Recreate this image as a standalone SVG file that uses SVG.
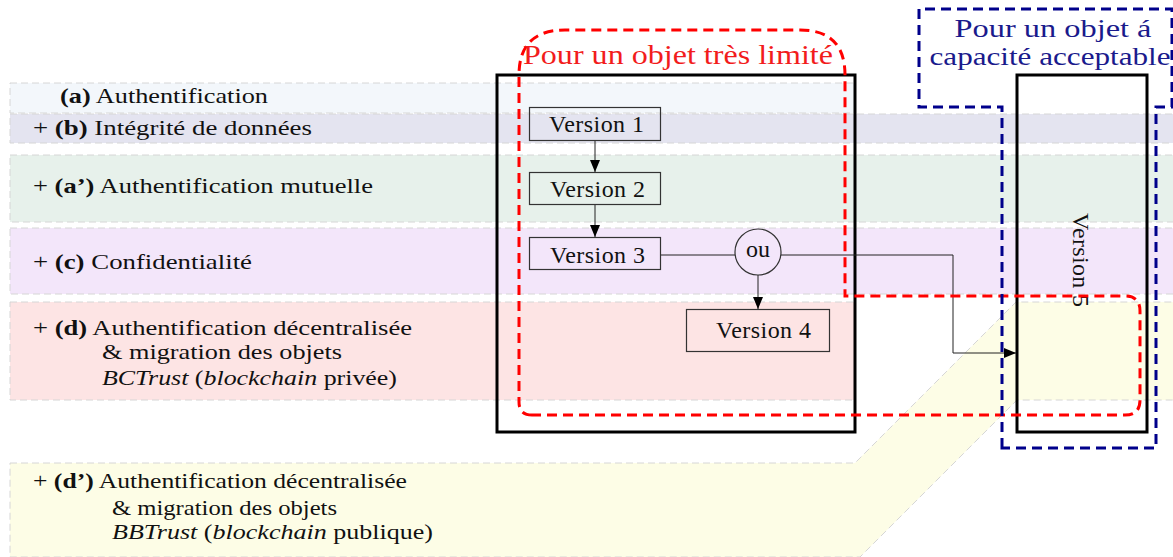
<svg xmlns="http://www.w3.org/2000/svg" width="1173" height="557" viewBox="0 0 1173 557">
<style>
.band{stroke:#d6d6d6;stroke-width:1;stroke-dasharray:7 4}
.t{font-size:22px;fill:#111}
.b{font-weight:bold}
.i{font-style:italic}
.box{fill:none;stroke:#000;stroke-width:3}
.ver{fill:none;stroke:#333;stroke-width:1.2}
.vt{font-size:24px;fill:#111}
.con{fill:none;stroke:#222;stroke-width:1}
</style>
<defs>
<marker id="arr" markerWidth="12" markerHeight="10" refX="12" refY="5" orient="auto" markerUnits="userSpaceOnUse"><path d="M0,0 L12,5 L0,10 Z" fill="#000"/></marker>
</defs>
<rect width="1173" height="557" fill="#fff"/>
<g id="bands">
<rect class="band" x="10" y="83" width="845" height="30" fill="#f3f7fb"/>
<rect class="band" x="10" y="114" width="1170" height="29" fill="#e4e4f0"/>
<rect class="band" x="10" y="155" width="1170" height="67" fill="#e7f1eb"/>
<rect class="band" x="10" y="228" width="1170" height="66" fill="#f3e6fa"/>
<rect class="band" x="10" y="302" width="845" height="98" fill="#fde4e4"/>
<path class="band" d="M10,463 L855,463 L1016,302 L1180,302 L1180,400 L1017,400 L860,557 L10,557 Z" fill="#fdfde6"/>
</g>
<g font-family="'Liberation Serif', 'Times New Roman', serif">
<g id="box1"><rect class="box" x="497" y="75" width="358" height="357"/></g>
<g id="box2"><rect class="box" x="1017" y="75" width="130" height="357"/>
<text class="vt" transform="translate(1073,213) rotate(90)" textLength="94" font-family="'Liberation Serif', serif">Version 5</text></g>
<g id="labels" font-family="'Liberation Serif', serif">
<text class="t" x="60" y="103" textLength="208" lengthAdjust="spacingAndGlyphs" font-family="'Liberation Serif', serif"><tspan class="b">(a)</tspan> Authentification</text>
<text class="t" x="33" y="135" textLength="279" lengthAdjust="spacingAndGlyphs" font-family="'Liberation Serif', serif">+ <tspan class="b">(b)</tspan> Intégrité de données</text>
<text class="t" x="33" y="193" textLength="340" lengthAdjust="spacingAndGlyphs" font-family="'Liberation Serif', serif">+ <tspan class="b">(a’)</tspan> Authentification mutuelle</text>
<text class="t" x="33" y="269" textLength="219" lengthAdjust="spacingAndGlyphs" font-family="'Liberation Serif', serif">+ <tspan class="b">(c)</tspan> Confidentialité</text>
<text class="t" x="33" y="335" textLength="379" lengthAdjust="spacingAndGlyphs" font-family="'Liberation Serif', serif">+ <tspan class="b">(d)</tspan> Authentification décentralisée</text>
<text class="t" x="102" y="359" textLength="240" lengthAdjust="spacingAndGlyphs" font-family="'Liberation Serif', serif">&amp; migration des objets</text>
<text class="t" x="102" y="385" textLength="295" lengthAdjust="spacingAndGlyphs" font-family="'Liberation Serif', serif"><tspan class="i">BCTrust</tspan> (<tspan class="i">blockchain</tspan> privée)</text>
<text class="t" x="33" y="488" textLength="374" lengthAdjust="spacingAndGlyphs" font-family="'Liberation Serif', serif">+ <tspan class="b">(d’)</tspan> Authentification décentralisée</text>
<text class="t" x="112" y="515" textLength="225" lengthAdjust="spacingAndGlyphs" font-family="'Liberation Serif', serif">&amp; migration des objets</text>
<text class="t" x="112" y="539" textLength="321" lengthAdjust="spacingAndGlyphs" font-family="'Liberation Serif', serif"><tspan class="i">BBTrust</tspan> (<tspan class="i">blockchain</tspan> publique)</text>
</g>
<g id="v1"><rect class="ver" x="529.5" y="107.5" width="131" height="33"/><text class="vt" x="549" y="132" textLength="95" font-family="'Liberation Serif', serif">Version 1</text></g>
<g id="v2"><rect class="ver" x="529.5" y="172.5" width="131" height="32"/><text class="vt" x="550" y="197" textLength="95" font-family="'Liberation Serif', serif">Version 2</text></g>
<g id="v3"><rect class="ver" x="529.5" y="237.5" width="131" height="32"/><text class="vt" x="550" y="263" textLength="95" font-family="'Liberation Serif', serif">Version 3</text></g>
<g id="ou"><circle class="ver" cx="758" cy="252" r="23"/><text class="vt" x="758" y="257" text-anchor="middle" font-family="'Liberation Serif', serif">ou</text></g>
<g id="v4"><rect class="ver" x="686.5" y="309.5" width="143" height="42"/><text class="vt" x="716" y="338" textLength="95" font-family="'Liberation Serif', serif">Version 4</text></g>
<g id="connectors">
<line class="con" x1="595" y1="141" x2="595" y2="172" marker-end="url(#arr)"/>
<line class="con" x1="595" y1="205" x2="595" y2="237" marker-end="url(#arr)"/>
<line class="con" x1="661" y1="255" x2="735" y2="255"/>
<line class="con" x1="758" y1="275" x2="758" y2="309" marker-end="url(#arr)"/>
<polyline class="con" points="781,255 953,255 953,353 1016,353" marker-end="url(#arr)"/>
</g>
<g id="group-limited">
<path d="M532,415 Q519,415 519,402 L519,75 Q519,30 565,30 L800,30 Q845,30 845,75 L845,296 L1125,296 Q1140,296 1140,311 L1140,400 Q1140,415 1125,415 Z" fill="none" stroke="#ff0000" stroke-width="3" stroke-dasharray="10 6"/>
<text x="678" y="64" text-anchor="middle" textLength="310" lengthAdjust="spacingAndGlyphs" font-family="'Liberation Serif', serif" font-size="27" fill="#f21c1c">Pour un objet très limité</text>
</g>
<g id="group-acceptable">
<path d="M1002,448 L1002,107 L919,107 L919,9 L1172,9 L1172,107 L1156,107 L1156,448 Z" fill="none" stroke="#00008b" stroke-width="3" stroke-dasharray="10 6"/>
<text x="1053" y="37" text-anchor="middle" textLength="197" lengthAdjust="spacingAndGlyphs" font-family="'Liberation Serif', serif" font-size="25" fill="#1a1a8c">Pour un objet á</text>
<text x="1050" y="65" text-anchor="middle" textLength="241" lengthAdjust="spacingAndGlyphs" font-family="'Liberation Serif', serif" font-size="25" fill="#1a1a8c">capacité acceptable</text>
</g>
</g>
</svg>
